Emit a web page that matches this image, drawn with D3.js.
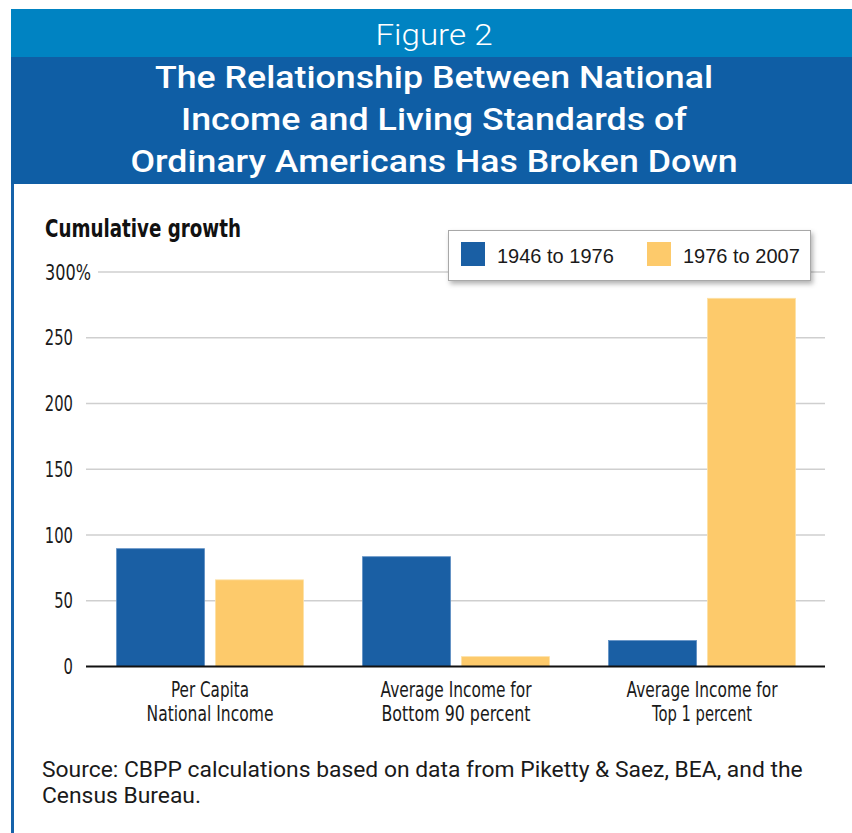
<!DOCTYPE html>
<html>
<head>
<meta charset="utf-8">
<script src="https://cdn.jsdelivr.net/npm/d3@7"></script>
<style>
  body { margin: 0; background: #fff; }
  svg { display: block; }
</style>
</head>
<body>
<svg id="chart"></svg>
<script>
// data
var categories = [["Per Capita", "National Income"],
                  ["Average Income for", "Bottom 90 percent"],
                  ["Average Income for", "Top 1 percent"]]
var series = ["1946 to 1976", "1976 to 2007"]
var early = [89.6, 83.5, 19.7]  // 1946-1976
var late = [65.9, 7.5, 280]     // 1976-2007
var yTicks = [0, 50, 100, 150, 200, 250, 300]
var titleLines = ["The Relationship Between National",
                  "Income and Living Standards of",
                  "Ordinary Americans Has Broken Down"]
var sourceLines = ["Source: CBPP calculations based on data from Piketty & Saez, BEA, and the",
                   "Census Bureau."]

var width = 852
var height = 833
var colors = ["#1a5fa4", "#fdca6b"]
var cond = "'DejaVu Sans', sans-serif"

var svg = d3.select("#chart")
    .attr("width", width)
    .attr("height", height)

// squeeze a text to a given width (condensed look)
function squeeze(sel, w) {
  sel.attr("textLength", w).attr("lengthAdjust", "spacingAndGlyphs")
}

// header bands
svg.append("rect").attr("x", 11).attr("y", 9).attr("width", width - 11).attr("height", 48).attr("fill", "#0083c2")
svg.append("rect").attr("x", 11).attr("y", 57).attr("width", width - 11).attr("height", 127).attr("fill", "#0f5ea5")
// left frame line
svg.append("rect").attr("x", 11).attr("y", 184).attr("width", 3).attr("height", height - 184).attr("fill", "#1562aa")

svg.append("text")
    .attr("x", 434).attr("y", 45)
    .attr("text-anchor", "middle")
    .attr("fill", "#fff")
    .style("font-family", "Roboto, sans-serif")
    .style("font-weight", 300)
    .style("font-size", "29px")
    .call(squeeze, 117)
    .text("Figure 2")

var titleW = [558, 506, 607]
svg.append("g").selectAll("text")
    .data(titleLines)
    .enter()
    .append("text")
    .attr("x", 434)
    .attr("y", (d, i) => 88 + i * 42)
    .attr("text-anchor", "middle")
    .attr("fill", "#fff")
    .style("font-family", "Roboto, sans-serif")
    .style("font-weight", 500)
    .style("font-size", "32px")
    .attr("textLength", (d, i) => titleW[i])
    .attr("lengthAdjust", "spacingAndGlyphs")
    .text(d => d)

// scales
var x0 = d3.scaleBand()
    .domain(d3.range(categories.length))
    .range([87, 825])
    .paddingInner(0.24)
    .paddingOuter(0.12)

var x1 = d3.scaleBand()
    .domain(series)
    .range([0, x0.bandwidth()])
    .paddingInner(0.11)

var y = d3.scaleLinear()
    .domain([0, 300])
    .range([666.5, 272])

var yMax = d3.max(yTicks)

// grid
svg.append("g").selectAll("line")
    .data(yTicks.filter(d => d > 0))
    .enter()
    .append("line")
    .attr("x1", d => d === yMax ? 98 : 86)
    .attr("x2", 825)
    .attr("y1", d => y(d))
    .attr("y2", d => y(d))
    .attr("stroke", "#cfcfcf")
    .attr("stroke-width", 1.5)

// y labels (top one carries the % sign and hangs past the others)
svg.append("g").selectAll("text")
    .data(yTicks)
    .enter()
    .append("text")
    .attr("x", d => d === yMax ? 45 : 73)
    .attr("y", d => y(d) + 7.5)
    .attr("text-anchor", d => d === yMax ? "start" : "end")
    .attr("fill", "#1a1a1a")
    .style("font-family", cond)
    .style("font-size", "21px")
    .attr("textLength", d => d === yMax ? 46 : String(d).length * 9.4)
    .attr("lengthAdjust", "spacingAndGlyphs")
    .text(d => d === yMax ? d + "%" : d)

svg.append("text")
    .attr("x", 45).attr("y", 237)
    .attr("fill", "#111")
    .style("font-family", cond)
    .style("font-weight", "bold")
    .style("font-size", "24px")
    .call(squeeze, 196)
    .text("Cumulative growth")

// bars
var rows = categories.map((c, i) => ({ i: i, values: [early[i], late[i]] }))

var groups = svg.append("g").selectAll("g")
    .data(rows)
    .enter()
    .append("g")
    .attr("transform", d => "translate(" + x0(d.i) + ",0)")

groups.selectAll("rect")
    .data(d => d.values.map((v, k) => ({ s: series[k], k: k, v: v })))
    .enter()
    .append("rect")
    .attr("x", d => x1(d.s))
    .attr("width", x1.bandwidth())
    .attr("y", d => y(d.v))
    .attr("height", d => y(0) - y(d.v))
    .attr("fill", d => colors[d.k])
    .attr("stroke", d => d.k === 0 ? "#5f8fc4" : "#fde1a6")
    .attr("stroke-width", 0.8)

// baseline
svg.append("line")
    .attr("x1", 86).attr("x2", 825)
    .attr("y1", y(0)).attr("y2", y(0))
    .attr("stroke", "#111")
    .attr("stroke-width", 2)

// category labels
var labelW = [[78, 127], [151, 149], [151, 100]]
var cl = svg.append("g").selectAll("text")
    .data(categories)
    .enter()
    .append("text")
    .attr("x", (d, i) => x0(i) + x0.bandwidth() / 2)
    .attr("y", 697)
    .attr("text-anchor", "middle")
    .attr("fill", "#1a1a1a")
    .style("font-family", cond)
    .style("font-size", "21px")

cl.each(function (d, i) {
  var t = d3.select(this)
  var cx = t.attr("x")
  d.forEach((line, j) => {
    t.append("tspan")
      .attr("x", cx)
      .attr("dy", j === 0 ? 0 : 24)
      .attr("textLength", labelW[i][j])
      .attr("lengthAdjust", "spacingAndGlyphs")
      .text(line)
  })
})

// legend
var defs = svg.append("defs")
var f = defs.append("filter").attr("id", "shadow").attr("x", "-10%").attr("y", "-30%").attr("width", "130%").attr("height", "180%")
f.append("feDropShadow").attr("dx", 2).attr("dy", 3).attr("stdDeviation", 2.5).attr("flood-color", "#000").attr("flood-opacity", 0.3)

var legend = svg.append("g")
legend.append("rect")
    .attr("x", 448.5).attr("y", 230.5)
    .attr("width", 362).attr("height", 50)
    .attr("fill", "#fff")
    .attr("stroke", "#a8a8a8")
    .attr("stroke-width", 1)
    .attr("filter", "url(#shadow)")

var lx = [461, 647]
var li = legend.selectAll("g")
    .data(series)
    .enter()
    .append("g")
    .attr("transform", (d, i) => "translate(" + lx[i] + ",242)")

li.append("rect")
    .attr("width", 24).attr("height", 24)
    .attr("fill", (d, i) => colors[i])

li.append("text")
    .attr("x", 36).attr("y", 20.5)
    .attr("fill", "#1a1a1a")
    .style("font-family", "'Liberation Sans', Arial, sans-serif")
    .style("font-size", "20px")
    .text(d => d)

// source: size the font so the first line spans its width
var src = svg.append("g").selectAll("text")
    .data(sourceLines)
    .enter()
    .append("text")
    .attr("x", 42)
    .attr("y", (d, i) => 777 + i * 26)
    .attr("fill", "#1a1a1a")
    .style("font-family", "Roboto, sans-serif")
    .style("font-size", "20px")
    .text(d => d)

var natural = src.nodes()[0].getComputedTextLength()
src.style("font-size", (20 * 761 / natural) + "px")
</script>
</body>
</html>
